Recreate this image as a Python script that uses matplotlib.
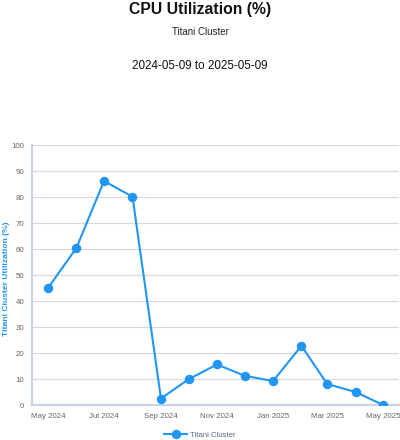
import matplotlib
matplotlib.use("Agg")
import matplotlib.pyplot as plt
import matplotlib.dates as mdates
import numpy as np
import datetime as dt

plt.rcParams['font.family'] = ['Liberation Sans', 'DejaVu Sans']

dates = ["2024-05-09", "2024-06-09", "2024-07-09", "2024-08-09", "2024-09-09",
         "2024-10-09", "2024-11-09", "2024-12-09", "2025-01-09", "2025-02-09",
         "2025-03-09", "2025-04-09", "2025-05-09"]
values = [45.0, 60.5, 86.2, 80.2, 2.5, 9.9, 15.6, 11.3, 9.2, 22.8, 8.1, 5.0, 0.0]
tick_labels = ["May 2024", "Jul 2024", "Sep 2024", "Nov 2024", "Jan 2025", "Mar 2025", "May 2025"]
series_name = "Titani Cluster"

x = [dt.datetime.strptime(d, "%Y-%m-%d") for d in dates]

fig = plt.figure(figsize=(4.0, 4.4), dpi=100)
ax = fig.add_axes([0.08, 0.0795, 0.918, 0.5905])

color = '#2196F3'
ax.plot(x, values, color=color, lw=1.5, marker='o', markersize=5.8,
        markerfacecolor=color, markeredgecolor=color, label=series_name, zorder=3)

ax.set_ylim(0, 100)
ax.set_yticks(np.arange(0, 101, 10))
ax.set_xlim(dt.datetime(2024, 4, 21, 14), dt.datetime(2025, 5, 26, 10))
ax.set_xticks(x[::2])
ax.set_xticklabels(tick_labels)

ax.grid(axis='y', color='#d9d9d9', lw=0.9)
ax.set_axisbelow(True)
for s in ['top', 'right']:
    ax.spines[s].set_visible(False)
for s in ['left', 'bottom']:
    ax.spines[s].set_color('#c8d4e3')
    ax.spines[s].set_linewidth(1.6)
ax.tick_params(axis='both', length=0, labelsize=5.7, labelcolor='#666666')
ax.tick_params(axis='x', pad=6)
ax.tick_params(axis='y', pad=5.5)

ax.set_ylabel("Titani Cluster Utilization (%)", color=color, fontsize=6.1,
              fontweight='bold')
ax.yaxis.set_label_coords(-0.06, 0.485)

fig.text(0.5, 0.978, "CPU Utilization (%)", ha='center', va='center',
         fontsize=11.3, fontweight='bold', color='#111111')
fig.text(0.5, 0.927, "Titani Cluster", ha='center', va='center',
         fontsize=7.0, color='#222222')
fig.text(0.5, 0.85, "2024-05-09 to 2025-05-09", ha='center', va='center',
         fontsize=8.4, color='#111111')

leg = fig.legend(loc='center', bbox_to_anchor=(0.5, 0.011), frameon=False,
                 fontsize=5.6, handlelength=3, handletextpad=0.4)
for t in leg.get_texts():
    t.set_color('#5a6a85')

fig.savefig("out.png", dpi=100)
